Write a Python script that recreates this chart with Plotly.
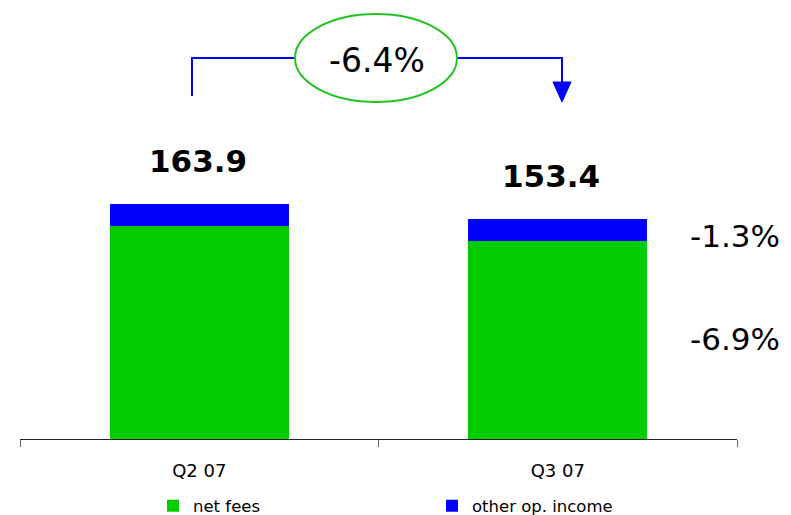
import plotly.graph_objects as go

categories = ["Q2 07", "Q3 07"]
net_fees = [148.6, 138.3]
other_income = [15.3, 15.1]
totals = [163.9, 153.4]
total_labels = ["163.9", "153.4"]
change_total = "-6.4%"
change_other = "-1.3%"
change_net = "-6.9%"

GREEN = "#00cc00"
BLUE = "#0000ff"
FONT = "DejaVu Sans"

# page has an 8px body margin; figure drawn in a 783x507 box
W, H = 783, 507
L, R, T, B = 12, 54, 0, 76
PH = H - T - B  # plot height (431)


def px(x):  # reference-pixel -> paper x
    return (x - 8 - L) / (W - L - R)


def py(y):  # reference-pixel -> paper y
    return (PH - (y - 8)) / PH


fig = go.Figure()
fig.add_trace(go.Bar(x=categories, y=net_fees, name="net fees",
                     marker=dict(color=GREEN, line=dict(width=0))))
fig.add_trace(go.Bar(x=categories, y=other_income, name="other op. income",
                     marker=dict(color=BLUE, line=dict(width=0))))

annotations = []
for i, (c, t, lab) in enumerate(zip(categories, totals, total_labels)):
    annotations.append(dict(x=c, y=t, xref="x", yref="y", text=lab, showarrow=False,
                            yanchor="middle", yshift=43, xshift=-1 if i == 0 else -7,
                            font=dict(family=FONT, size=31, color="black", weight="bold")))
annotations.append(dict(x=px(735), y=py(236), xref="paper", yref="paper",
                        text=change_other, showarrow=False, xanchor="center", yanchor="middle",
                        font=dict(family=FONT, size=31, color="black")))
annotations.append(dict(x=px(735), y=py(339), xref="paper", yref="paper",
                        text=change_net, showarrow=False, xanchor="center", yanchor="middle",
                        font=dict(family=FONT, size=31, color="black")))
annotations.append(dict(x=px(377), y=py(60), xref="paper", yref="paper",
                        text=change_total, showarrow=False, xanchor="center", yanchor="middle",
                        font=dict(family=FONT, size=33, color="black")))

shapes = [
    dict(type="circle", xref="paper", yref="paper",
         x0=px(295), x1=px(457), y0=py(102), y1=py(14),
         line=dict(color="#22c322", width=2), fillcolor="rgba(0,0,0,0)"),
    dict(type="path", xref="paper", yref="paper",
         path=f"M {px(192)} {py(96)} L {px(192)} {py(58)} L {px(294)} {py(58)}",
         line=dict(color=BLUE, width=2)),
    dict(type="path", xref="paper", yref="paper",
         path=f"M {px(458)} {py(58)} L {px(562)} {py(58)} L {px(562)} {py(84)}",
         line=dict(color=BLUE, width=2)),
    dict(type="path", xref="paper", yref="paper",
         path=f"M {px(553)} {py(82)} L {px(571)} {py(82)} L {px(562)} {py(102)} Z",
         line=dict(color=BLUE, width=1), fillcolor=BLUE),
]

fig.update_layout(
    width=W, height=H,
    barmode="stack", bargap=0.5,
    margin=dict(l=L, r=R, t=T, b=B, autoexpand=False),
    plot_bgcolor="white", paper_bgcolor="white",
    xaxis=dict(showline=True, linecolor="#222222", linewidth=1,
               ticks="outside", tickson="boundaries", ticklen=7, tickcolor="#666666",
               ticklabelstandoff=15,
               tickfont=dict(family=FONT, size=18, color="black"),
               showgrid=False, range=[-0.5, 1.5]),
    yaxis=dict(visible=False, range=[0, PH / (235 / 163.9)], showgrid=False, zeroline=False),
    showlegend=True,
    legend=dict(orientation="h", xref="container", yref="container",
                x=145 / W, y=9 / H, xanchor="left", yanchor="middle",
                entrywidth=234, entrywidthmode="pixels",
                font=dict(family=FONT, size=16.5, color="black"),
                itemwidth=30, traceorder="normal", bgcolor="rgba(0,0,0,0)"),
    annotations=annotations,
    shapes=shapes,
)

fig.write_html("out.html")
